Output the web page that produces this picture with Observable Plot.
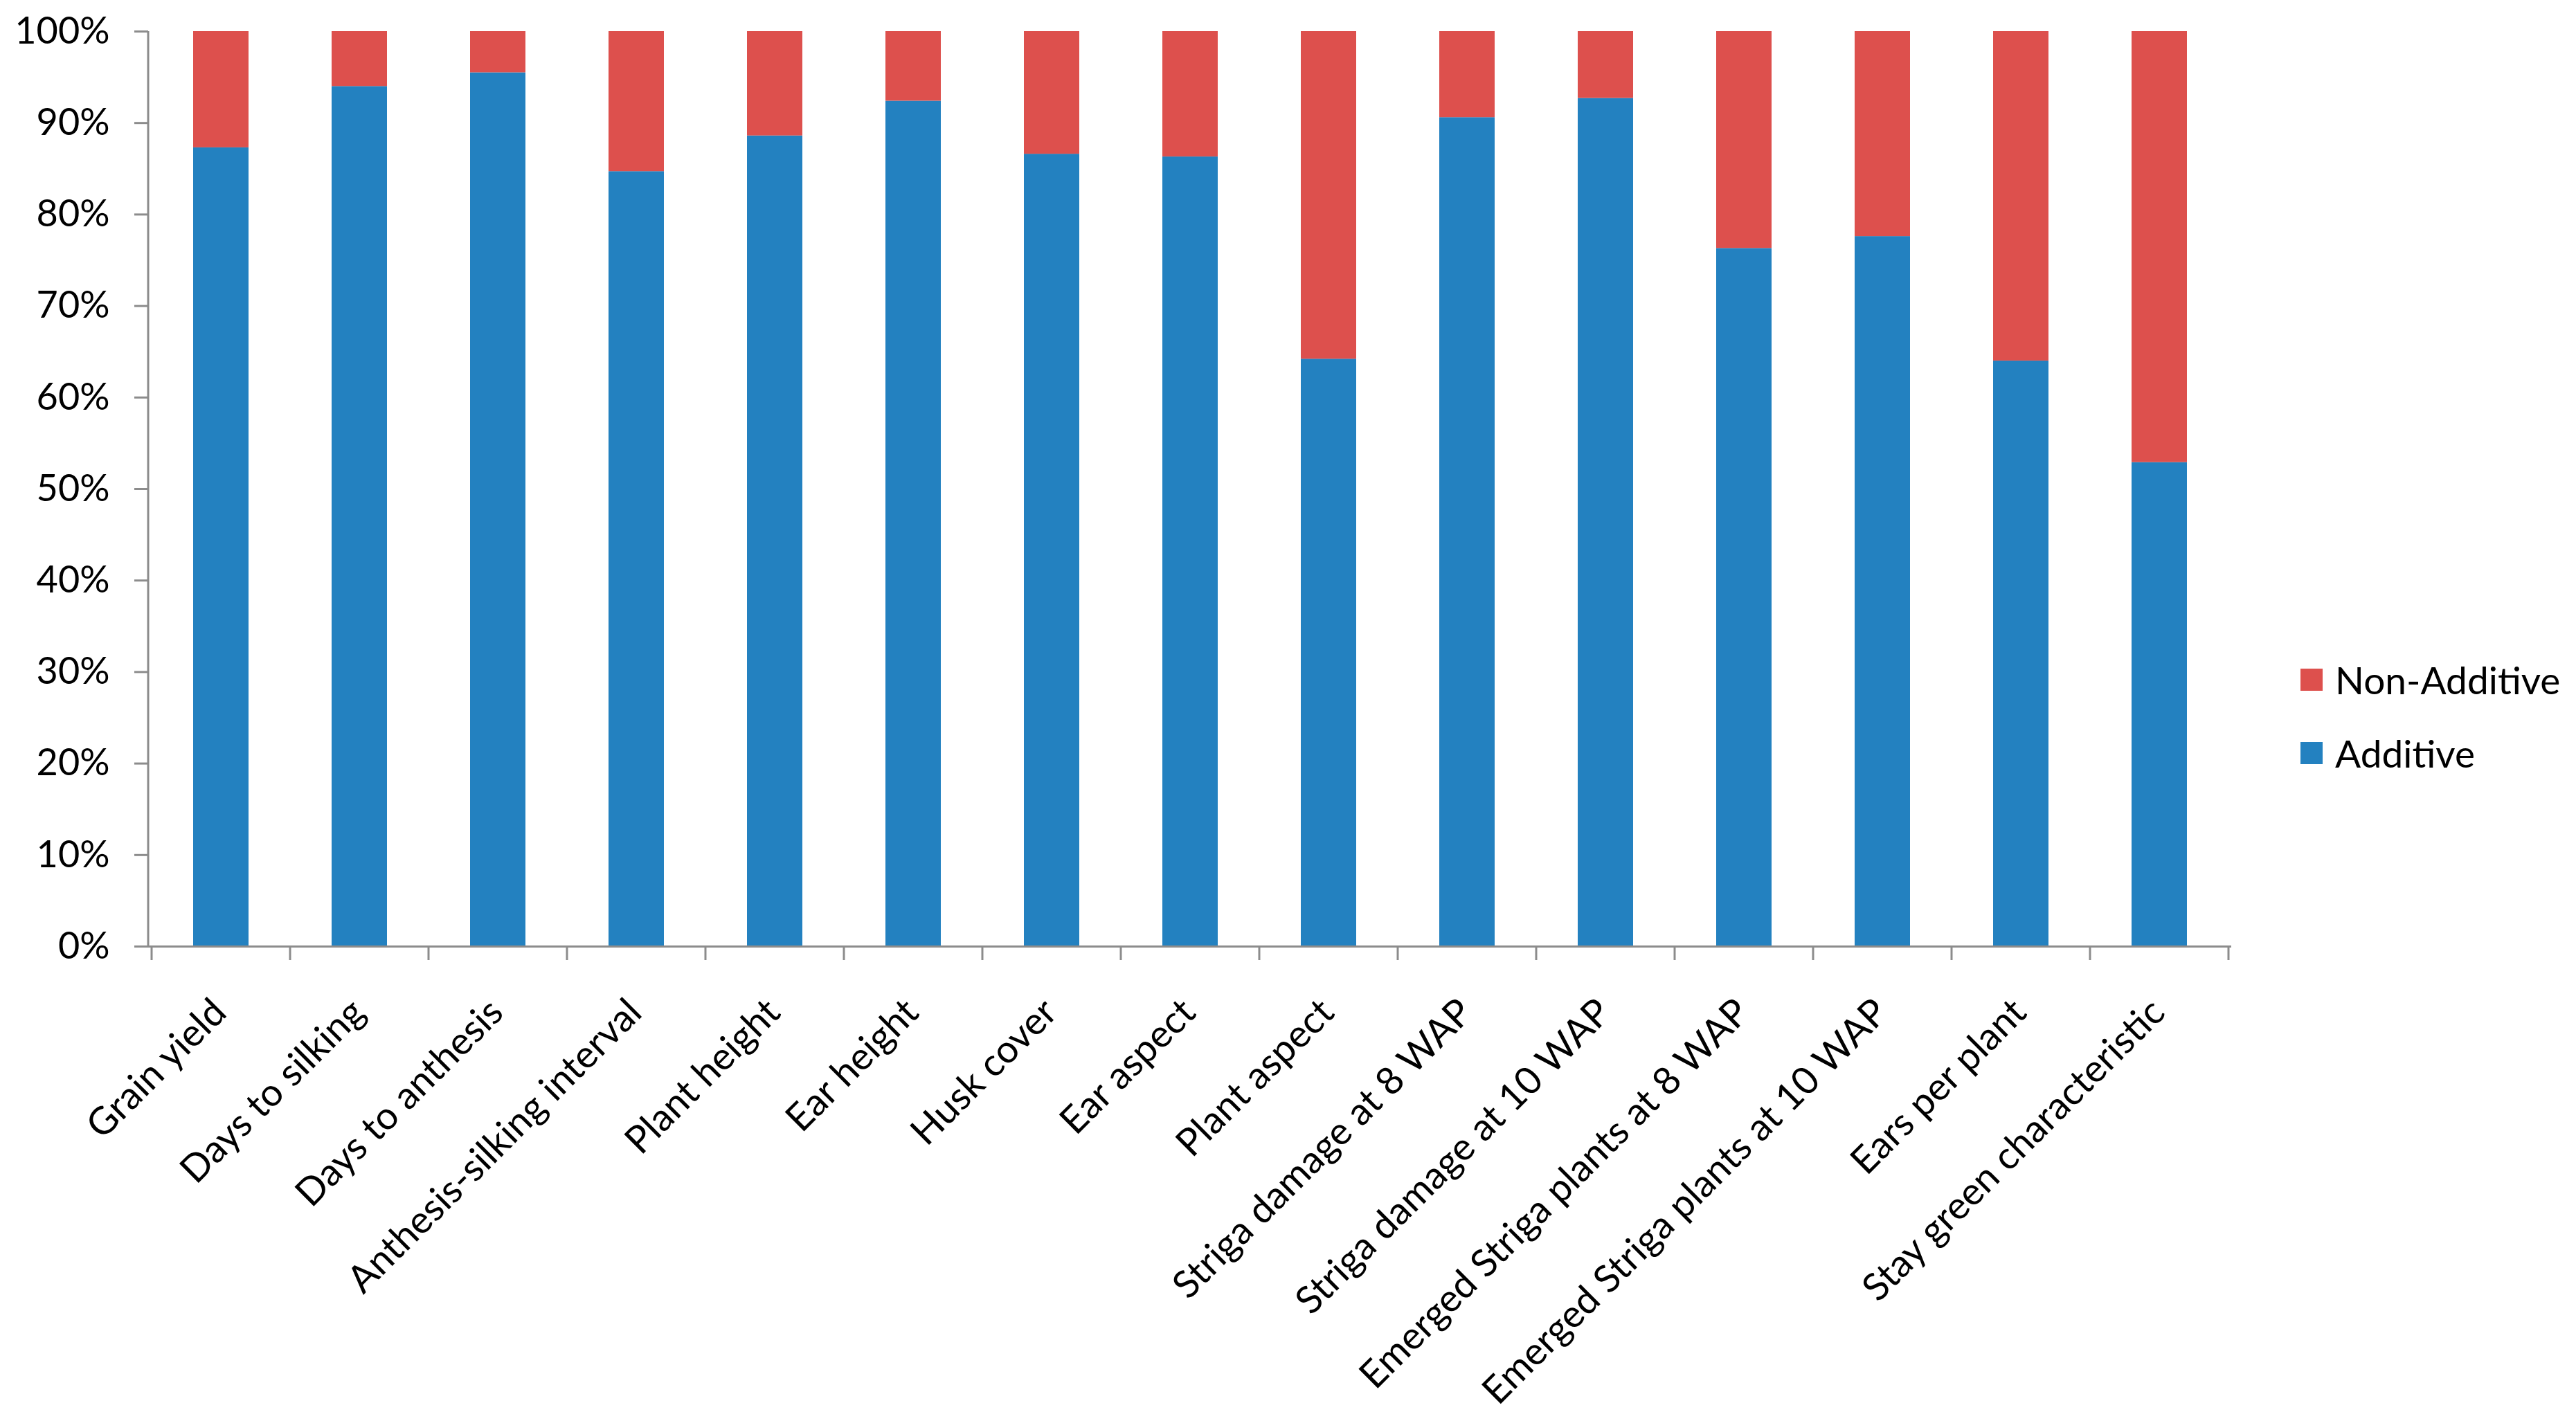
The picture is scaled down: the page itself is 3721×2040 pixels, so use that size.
<!DOCTYPE html>
<html>
<head>
<meta charset="utf-8">
<script src="https://cdn.jsdelivr.net/npm/d3@7"></script>
<script src="https://cdn.jsdelivr.net/npm/@observablehq/plot@0.6"></script>
<style>
  body { margin: 0; background: #ffffff; }
  #wrap { position: relative; width: 3721px; height: 2040px; font-family: Lato, "Open Sans", sans-serif; }
  #legend { position: absolute; left: 3323px; top: 0; font-family: Lato, "Open Sans", sans-serif; font-size: 55px; color: #000; }
  .item { position: absolute; left: 0; display: flex; align-items: center; white-space: nowrap; transform: translateY(-50%); }
  .sw { width: 32px; height: 32px; margin-right: 18px; }
</style>
</head>
<body>
<div id="wrap"></div>
<script>
const categories = [
  "Grain yield", "Days to silking", "Days to anthesis", "Anthesis-silking interval",
  "Plant height", "Ear height", "Husk cover", "Ear aspect", "Plant aspect",
  "Striga damage at 8 WAP", "Striga damage at 10 WAP", "Emerged Striga plants at 8 WAP",
  "Emerged Striga plants at 10 WAP", "Ears per plant", "Stay green characteristic"
];
const additive    = [87.3, 94.0, 95.5, 84.7, 88.6, 92.4, 86.6, 86.3, 64.2, 90.6, 92.7, 76.3, 77.6, 64.0, 52.9];
const nonAdditive = [12.7,  6.0,  4.5, 15.3, 11.4,  7.6, 13.4, 13.7, 35.8,  9.4,  7.3, 23.7, 22.4, 36.0, 47.1];
const seriesNames = ["Additive", "Non-Additive"];
const seriesColors = ["#2381c0", "#dd504d"];
const yTicks = [0, 10, 20, 30, 40, 50, 60, 70, 80, 90, 100];
const legendOrder = ["Non-Additive", "Additive"];

const axisGray = "#8c8c8c";

const data = [];
categories.forEach((c, i) => data.push({category: c, series: "Additive", value: additive[i]}));
categories.forEach((c, i) => data.push({category: c, series: "Non-Additive", value: nonAdditive[i]}));

function categoryTicks(index, scales, values, dimensions) {
  const x = scales.x, y = scales.y;
  const step = x(categories[1]) - x(categories[0]);
  const bw = x.bandwidth ? x.bandwidth() : step * 0.4;
  const gap = (step - bw) / 2;
  const y0 = y(0), tickLen = 20;
  const g = d3.create("svg:g").attr("stroke", axisGray).attr("stroke-width", 3).attr("fill", "none");
  g.append("line")
    .attr("x1", dimensions.marginLeft).attr("x2", dimensions.marginLeft)
    .attr("y1", y(100)).attr("y2", y0);
  const edges = categories.map(c => x(c) - gap);
  edges.push(x(categories[categories.length - 1]) + bw + gap);
  for (const e of edges) {
    g.append("line").attr("x1", e).attr("x2", e).attr("y1", y0).attr("y2", y0 + tickLen);
  }
  return g.node();
}

const chart = Plot.plot({
  width: 3721,
  height: 2040,
  marginLeft: 214,
  marginRight: 498,
  marginTop: 45,
  marginBottom: 673,
  style: {fontFamily: "Lato, 'Open Sans', sans-serif", background: "#ffffff", color: "#000"},
  x: {domain: categories, paddingInner: 0.6, paddingOuter: 0.3, label: null},
  y: {domain: [0, 100], label: null},
  color: {domain: seriesNames, range: seriesColors},
  marks: [
    Plot.barY(data, {x: "category", y: "value", fill: "series"}),
    Plot.ruleY([0], {stroke: axisGray, strokeWidth: 3}),
    categoryTicks,
    Plot.axisY({ticks: yTicks, tickFormat: d => d + "%", tickSize: 20, tickPadding: 36,
                fontSize: 54, stroke: axisGray, strokeWidth: 3, fill: "#000", label: null}),
    Plot.axisX({tickSize: 0, tickRotate: -45, tickPadding: 86, fontSize: 55, fill: "#000", label: null, dx: -2})
  ]
});

const wrap = document.getElementById("wrap");
wrap.appendChild(chart);

const legend = document.createElement("div");
legend.id = "legend";
const legendY = {"Non-Additive": 982, "Additive": 1088};
legendOrder.forEach(name => {
  const item = document.createElement("div");
  item.className = "item";
  item.style.top = legendY[name] + "px";
  const sw = document.createElement("div");
  sw.className = "sw";
  sw.style.background = seriesColors[seriesNames.indexOf(name)];
  const label = document.createElement("span");
  label.textContent = name;
  item.appendChild(sw);
  item.appendChild(label);
  legend.appendChild(item);
});
wrap.appendChild(legend);
</script>
</body>
</html>
